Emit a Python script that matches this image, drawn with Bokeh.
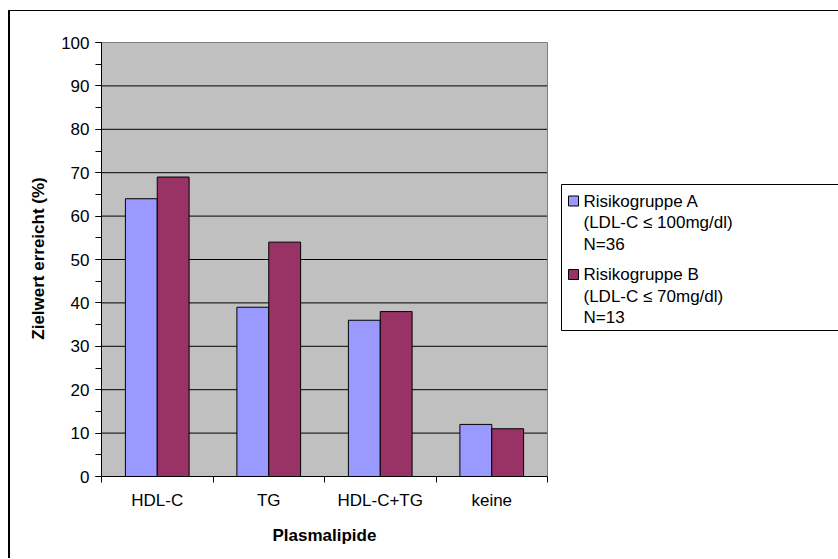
from bokeh.plotting import figure
from bokeh.models import (FixedTicker, SingleIntervalTicker, Range1d, Label, Title,
                          ColumnDataSource)
from bokeh.embed import file_html
from bokeh.resources import INLINE

# Data
categories = ["HDL-C", "TG", "HDL-C+TG", "keine"]
gruppe_a = [64, 39, 36, 12]
gruppe_b = [69, 54, 38, 11]
legend_a = ["Risikogruppe A", "(LDL-C \u2264 100mg/dl)", "N=36"]
legend_b = ["Risikogruppe B", "(LDL-C \u2264 70mg/dl)", "N=13"]
y_ticks = [0, 10, 20, 30, 40, 50, 60, 70, 80, 90, 100]
x_title = "Plasmalipide"
y_title = "Zielwert erreicht (%)"

FONT = "Liberation Sans"
FS = "17px"
COL_A = "#9999FF"
COL_B = "#993366"

# page geometry (px): plot area and chart border
OFF_X, OFF_Y = 10, 11            # figure origin inside its bordered box
PLOT_L, PLOT_R = 101, 547        # plot area left/right
PLOT_T, PLOT_B = 42, 476         # plot area top (=100 %) / bottom (=0 %)
OVERHANG = 12                    # chart continues past the right edge of the page
FIG_W, FIG_H = 838 - OFF_X + OVERHANG, 559 - OFF_Y
FRAME_T = PLOT_T - 2             # frame reaches a little above 100 %

n = len(categories)
ymax = y_ticks[-1]
frame_w = FIG_W - (PLOT_L - OFF_X)
frame_h = PLOT_B - FRAME_T
x_end = n * frame_w / (PLOT_R - PLOT_L)
y_end = ymax * frame_h / (PLOT_B - PLOT_T)

centers = [i + 0.5 for i in range(n)]
bar_w = 2 / 7  # two bars per group, gap width 150 %
src = ColumnDataSource(dict(
    xa=[c - bar_w / 2 for c in centers],
    xb=[c + bar_w / 2 for c in centers],
    a=gruppe_a,
    b=gruppe_b,
))

p = figure(width=FIG_W, height=FIG_H, output_backend="svg", toolbar_location=None,
           x_range=Range1d(0, x_end), y_range=Range1d(0, y_end),
           min_border_left=PLOT_L - OFF_X, min_border_right=0,
           min_border_top=FRAME_T - OFF_Y, min_border_bottom=FIG_H - (PLOT_B - OFF_Y))
p.styles = {"margin-left": "8px", "margin-top": "10px",
            "margin-right": f"-{OVERHANG}px",
            "border-left": "2px solid black", "border-top": "1px solid black"}
p.background_fill_color = "white"
p.border_fill_color = "white"
p.outline_line_color = None
p.xgrid.visible = False
p.ygrid.visible = False

# grey plot area, grid lines, bars, plot-area edges
p.quad(left=0, right=n, bottom=0, top=ymax, fill_color="#C0C0C0", line_color=None)
grid_y = y_ticks[1:-1]
p.segment(x0=[0] * len(grid_y), x1=[n] * len(grid_y), y0=grid_y, y1=grid_y,
          line_color="black", line_width=1)
p.vbar(x="xa", top="a", width=bar_w, source=src, fill_color=COL_A,
       line_color="black", line_width=1)
p.vbar(x="xb", top="b", width=bar_w, source=src, fill_color=COL_B,
       line_color="black", line_width=1)
p.segment(x0=[0, n], y0=[ymax, 0], x1=[n, n], y1=[ymax, ymax],
          line_color="#808080", line_width=1)

# y axis
yax = p.yaxis[0]
yax.bounds = (0, ymax)
yax.ticker = SingleIntervalTicker(interval=10, num_minor_ticks=2)
yax.axis_line_color = "black"
yax.major_tick_in = 0
yax.major_tick_out = 6
yax.minor_tick_in = 0
yax.minor_tick_out = 6
yax.minor_tick_line_color = "black"
yax.major_label_text_font = FONT
yax.major_label_text_font_size = FS
yax.major_label_text_color = "black"
yax.major_label_standoff = 6
yax.axis_label = y_title
yax.axis_label_text_font = FONT
yax.axis_label_text_font_size = FS
yax.axis_label_text_font_style = "bold"
yax.axis_label_text_color = "black"
yax.axis_label_standoff = 10

# x axis: labels at group centres, tick marks at group boundaries
xax = p.xaxis[0]
xax.bounds = (0, n)
xax.ticker = FixedTicker(ticks=centers, minor_ticks=list(range(n + 1)))
xax.major_label_overrides = {c: name for c, name in zip(centers, categories)}
xax.axis_line_color = "black"
xax.major_tick_in = 0
xax.major_tick_out = 0
xax.minor_tick_in = 0
xax.minor_tick_out = 6
xax.minor_tick_line_color = "black"
xax.major_label_text_font = FONT
xax.major_label_text_font_size = FS
xax.major_label_text_color = "black"
xax.major_label_standoff = 8

# x-axis title, centred under the plot area (left-aligned with an offset)
TITLE_W = 104
p.add_layout(Title(text=x_title, align="left",
                   offset=(PLOT_L + PLOT_R) / 2 - TITLE_W / 2 - PLOT_L,
                   text_font=FONT, text_font_size=FS, text_font_style="bold",
                   text_color="black", standoff=22), "below")


# legend, placed by page pixels converted into the frame's data space
def dx(px):
    return (px - PLOT_L) * n / (PLOT_R - PLOT_L)


def dy(py):
    return (PLOT_B - py) * ymax / (PLOT_B - PLOT_T)


LEG_L, LEG_T, LEG_B, LEG_R = 561, 184, 330, 1000
p.quad(left=dx(LEG_L), right=dx(LEG_R), top=dy(LEG_T), bottom=dy(LEG_B),
       fill_color="white", line_color=None)
# left, top and bottom edges only; the box runs on past the chart's right side
p.segment(x0=[dx(LEG_L), dx(LEG_L), dx(LEG_L)], y0=[dy(LEG_T), dy(LEG_T), dy(LEG_B)],
          x1=[dx(LEG_L), dx(LEG_R), dx(LEG_R)], y1=[dy(LEG_B), dy(LEG_T), dy(LEG_B)],
          line_color="black", line_width=1)

first_line_y = 200.5
line_pitch = 21.6
group_pitch = 73.5
for g, (lines, col) in enumerate([(legend_a, COL_A), (legend_b, COL_B)]):
    y0 = first_line_y + g * group_pitch
    p.quad(left=dx(568), right=dx(578), top=dy(y0 - 5), bottom=dy(y0 + 5),
           fill_color=col, line_color="black", line_width=1)
    for k, txt in enumerate(lines):
        p.add_layout(Label(x=583 - PLOT_L, y=PLOT_B - (y0 + k * line_pitch),
                           x_units="screen", y_units="screen", text=txt,
                           text_font=FONT, text_font_size=FS, text_color="black",
                           text_baseline="middle", text_align="left"))

open("out.html", "w").write(file_html(p, INLINE))
